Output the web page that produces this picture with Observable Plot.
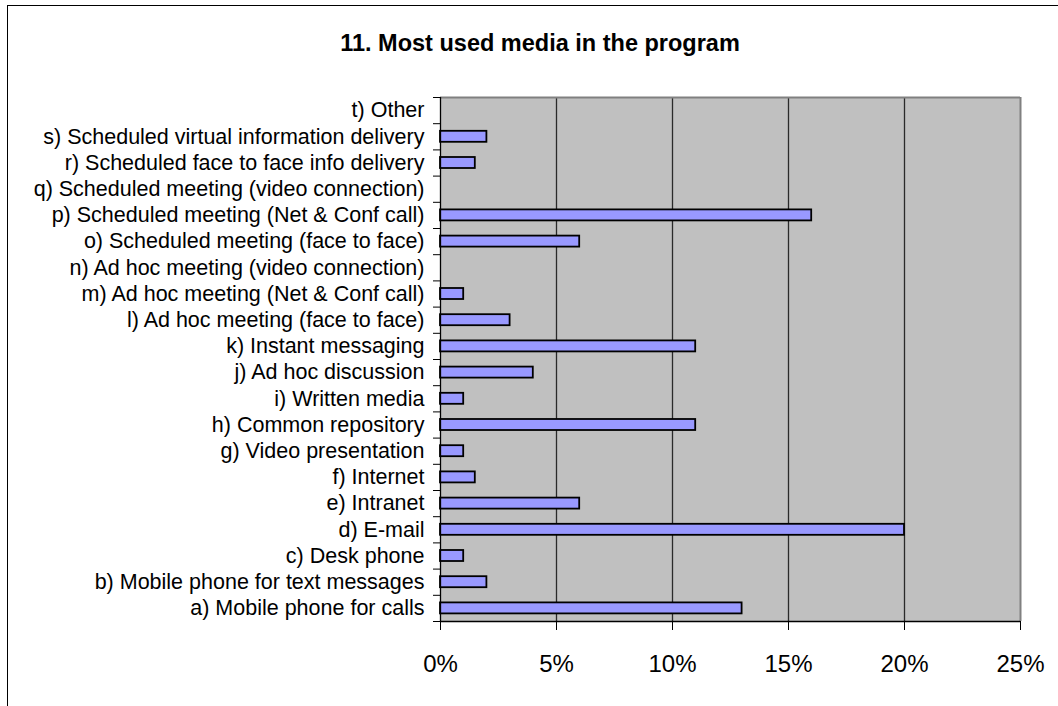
<!DOCTYPE html>
<html>
<head>
<meta charset="utf-8">
<script src="https://cdn.jsdelivr.net/npm/d3@7"></script>
<script src="https://cdn.jsdelivr.net/npm/@observablehq/plot@0.6"></script>
<style>
  html, body { margin: 0; padding: 0; background: #fff; overflow: hidden; }
  body { position: relative; width: 1058px; height: 706px; font-family: "Liberation Sans", Arial, sans-serif; }
  #frame { position: absolute; left: 7px; top: 5px; width: 1200px; height: 900px; border-left: 1.5px solid #000; border-top: 1.5px solid #000; }
  #title { position: relative; height: 80px; box-sizing: border-box; padding-top: 30px; padding-left: 22px; width: 1058px; text-align: center; font-weight: bold; font-size: 23.5px; line-height: 26px; color: #000; }
  #chart { position: relative; }
</style>
</head>
<body>
<div id="frame"></div>
<div id="title">11. Most used media in the program</div>
<div id="chart"></div>
<script>
const categories = [
  "a) Mobile phone for calls",
  "b) Mobile phone for text messages",
  "c) Desk phone",
  "d) E-mail",
  "e) Intranet",
  "f) Internet",
  "g) Video presentation",
  "h) Common repository",
  "i) Written media",
  "j) Ad hoc discussion",
  "k) Instant messaging",
  "l) Ad hoc meeting (face to face)",
  "m) Ad hoc meeting (Net & Conf call)",
  "n) Ad hoc meeting (video connection)",
  "o) Scheduled meeting (face to face)",
  "p) Scheduled meeting (Net & Conf call)",
  "q) Scheduled meeting (video connection)",
  "r) Scheduled face to face info delivery",
  "s) Scheduled virtual information delivery",
  "t) Other"
];
const percentValues = [13, 2, 1, 20, 6, 1.5, 1, 11, 1, 4, 11, 3, 1, 0, 6, 16, 0, 1.5, 2, 0];
const xTicks = [0, 0.05, 0.10, 0.15, 0.20, 0.25];

const data = categories.map((c, i) => ({category: c, index: i, value: percentValues[i] / 100}));
const n = categories.length;

const chart = Plot.plot({
  width: 1058,
  height: 626,
  marginLeft: 440,
  marginRight: 38,
  marginTop: 17,
  marginBottom: 85,
  style: {fontFamily: "'Liberation Sans', Arial, sans-serif", fontSize: "21.5px", color: "#000", background: "transparent"},
  x: {domain: [0, 0.25], axis: null},
  y: {domain: [0, n], axis: null},
  marks: [
    Plot.frame({fill: "#C0C0C0", stroke: null}),
    Plot.ruleX(xTicks.slice(1, -1), {stroke: "#2a2a2a", strokeWidth: 1.3}),
    Plot.ruleX([0.25], {stroke: "#808080", strokeWidth: 2}),
    Plot.ruleY([n], {stroke: "#808080", strokeWidth: 2}),
    Plot.rectX(data.filter(d => d.value > 0), {
      x1: 0,
      x2: "value",
      y1: d => d.index + 0.29,
      y2: d => d.index + 0.71,
      fill: "#9999FF",
      stroke: "#000",
      strokeWidth: 1.8
    }),
    Plot.ruleX([0], {stroke: "#000", strokeWidth: 1.3}),
    Plot.ruleY([0], {stroke: "#000", strokeWidth: 1.3}),
    Plot.axisY({ticks: d3.range(0, n + 1), tickSize: 7, tickFormat: () => "", stroke: "#000", label: null}),
    Plot.axisY({
      ticks: d3.range(0, n).map(i => i + 0.5),
      tickSize: 0,
      tickPadding: 16,
      tickFormat: d => categories[Math.floor(d)],
      fontSize: 21.5,
      fill: "#000",
      label: null
    }),
    Plot.axisX({
      ticks: xTicks,
      tickSize: 9,
      tickPadding: 24,
      tickFormat: d3.format(".0%"),
      fontSize: 24,
      fill: "#000",
      stroke: "#000",
      label: null
    })
  ]
});
document.getElementById("chart").appendChild(chart);
</script>
</body>
</html>
